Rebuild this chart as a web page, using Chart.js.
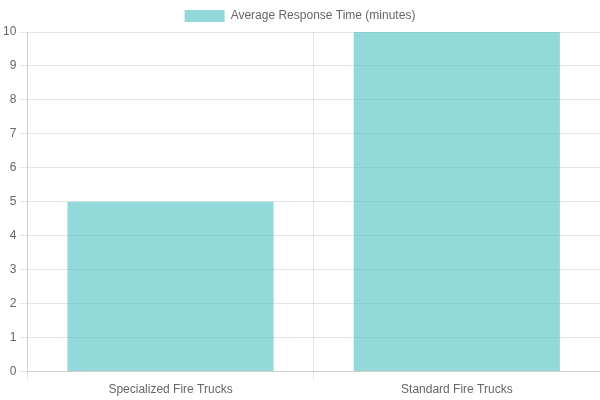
<!DOCTYPE html>
<html lang="en">
<head>
    <meta charset="UTF-8">
    <title>Average Response Time</title>
    <script src="https://cdn.jsdelivr.net/npm/chart.js"></script>
    <style>
        html, body { margin: 0; padding: 0; background: #fff; }
        .graph { width: 600px; height: 400px; }
    </style>
</head>
<body>
    <div class="graph">
        <canvas id="graficoResposta"></canvas>
    </div>

<script>
    // dados do grafico
    const categorias = ['Specialized Fire Trucks', 'Standard Fire Trucks'];
    const tempoMedio = [5, 10];
    const nomeSerie = 'Average Response Time (minutes)';

    const dados = {
        labels: categorias,
        datasets: [{
            label: nomeSerie,
            data: tempoMedio,
            backgroundColor: 'rgba(75, 192, 192, 0.6)',
            borderColor: 'rgba(75, 192, 192, 0.6)',
            borderWidth: 0
        }]
    };

    const config = {
        type: 'bar',
        data: dados,
        options: {
            responsive: true,
            maintainAspectRatio: false,
            animation: false,
            scales: {
                y: {
                    beginAtZero: true
                }
            }
        }
    };

    new Chart(document.getElementById('graficoResposta'), config);
</script>
</body>
</html>
